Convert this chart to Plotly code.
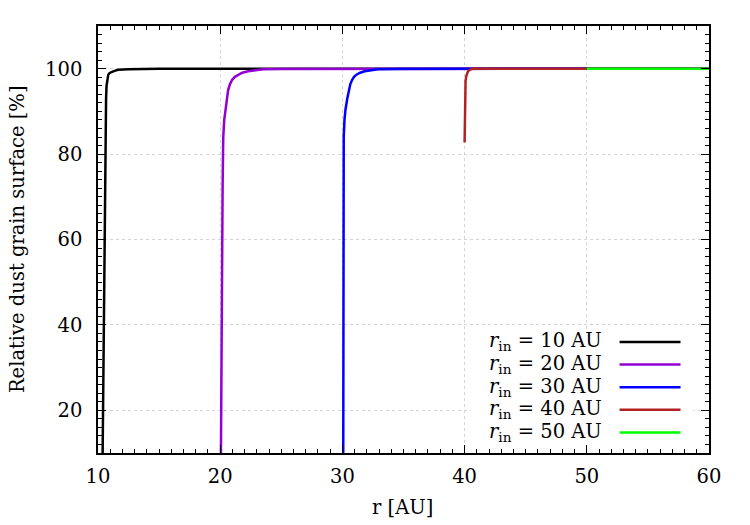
import plotly.graph_objects as go

# ---- data ----
series_names = ["10", "20", "30", "40", "50"]
series_colors = ["#000000", "#9400D3", "#0000FF", "#B22222", "#00FF00"]

r_10 = [10.38, 10.45, 10.52, 10.58, 10.63, 10.66, 10.70, 10.76, 10.84, 10.95, 11.12, 11.35, 11.66, 12.5, 15.0, 60.0]
v_10 = [10, 35, 60, 78, 88, 93, 96, 97.8, 98.6, 99.0, 99.25, 99.5, 99.75, 99.9, 99.97, 100]

r_20 = [20.06, 20.10, 20.15, 20.20, 20.25, 20.33, 20.44, 20.55, 20.65, 20.80, 20.98, 21.2, 21.47, 21.8, 22.29, 22.8, 23.5, 25.0, 60.0]
v_20 = [10, 35, 57, 73, 84, 88, 90.4, 93, 95, 96.4, 97.4, 98.1, 98.6, 99.05, 99.4, 99.65, 99.85, 99.95, 100]

r_30 = [30.07, 30.08, 30.09, 30.10, 30.11, 30.17, 30.25, 30.40, 30.52, 30.65, 30.80, 30.95, 31.15, 31.45, 31.83, 32.3, 32.9, 34.5, 60.0]
v_30 = [10, 35, 57, 73, 84, 88, 90.4, 93, 95, 96.4, 97.4, 98.1, 98.6, 99.05, 99.4, 99.65, 99.85, 99.95, 100]

r_40 = [40.0, 40.005, 40.01, 40.02, 40.04, 40.08, 40.15, 40.28, 40.45, 40.66, 60.0]
v_40 = [82.7, 86, 90, 93, 95.5, 97.2, 98.4, 99.4, 99.8, 100, 100]

r_50 = [50.0, 60.0]
v_50 = [100, 100]

series_r = [r_10, r_20, r_30, r_40, r_50]
series_v = [v_10, v_20, v_30, v_40, v_50]

x_range = [10, 60]
y_range = [10, 110]
x_title = "r [AU]"
y_title = "Relative dust grain surface [%]"

FONT = "'DejaVu Serif', serif"
FS = 19.5

fig = go.Figure()
for name, col, rr, vv in zip(series_names, series_colors, series_r, series_v):
    fig.add_trace(go.Scatter(x=rr, y=vv, mode="lines", name=name,
                             line=dict(color=col, width=2.5),
                             showlegend=False))

W, H = 750, 525
L, R, T, B = 98, 709.5, 26.4, 452.6
pw, ph = R - L, B - T

def px(x):
    return (x - L) / pw

def py(y):
    return (B - y) / ph

font_main = dict(family=FONT, size=FS, color="black")

axis_common = dict(
    showline=True, linecolor="black", linewidth=1.5, mirror="allticks",
    ticks="inside", ticklen=8, tickwidth=1.2, tickcolor="black",
    showgrid=True, gridcolor="#d4d4d4", griddash="dot", gridwidth=1,
    zeroline=False, automargin=False,
    tickfont=font_main,
    minor=dict(ticks="inside", ticklen=4, tickwidth=1, tickcolor="black", showgrid=False),
)

fig.update_xaxes(range=x_range, dtick=10, tick0=0, minor_dtick=1,
                 ticklabelstandoff=5, **axis_common)
fig.update_yaxes(range=y_range, dtick=20, tick0=0, minor_dtick=2,
                 ticklabelstandoff=10, **axis_common)

# axis titles
annotations = [
    dict(xref="paper", yref="paper", x=px(403), y=py(507), xanchor="center", yanchor="middle",
         showarrow=False, text=x_title, font=font_main),
    dict(xref="paper", yref="paper", x=px(18), y=py(239), xanchor="center", yanchor="middle",
         showarrow=False, text=y_title, textangle=-90, font=font_main),
]

# legend (gnuplot style: text on the left, sample on the right, opaque box)
shapes = [dict(type="rect", xref="paper", yref="paper",
               x0=px(471), x1=px(694), y0=py(444), y1=py(331),
               fillcolor="white", line=dict(width=0), layer="above")]
row0, step = 341.7, 22.6
for i, (name, col) in enumerate(zip(series_names, series_colors)):
    yc = row0 + i * step
    annotations.append(dict(xref="paper", yref="paper", x=px(604), y=py(yc),
                            xanchor="right", yanchor="middle", showarrow=False,
                            text="<i>r</i><sub>in</sub> = " + name + " AU",
                            font=font_main))
    shapes.append(dict(type="line", xref="paper", yref="paper",
                       x0=px(620), x1=px(681), y0=py(yc), y1=py(yc),
                       line=dict(color=col, width=2.5), layer="above"))

fig.update_layout(
    width=W, height=H,
    margin=dict(l=L, r=W - R, t=T, b=H - B, pad=0, autoexpand=False),
    paper_bgcolor="white", plot_bgcolor="white",
    font=font_main,
    shapes=shapes, annotations=annotations,
)

fig.write_html("out.html")
